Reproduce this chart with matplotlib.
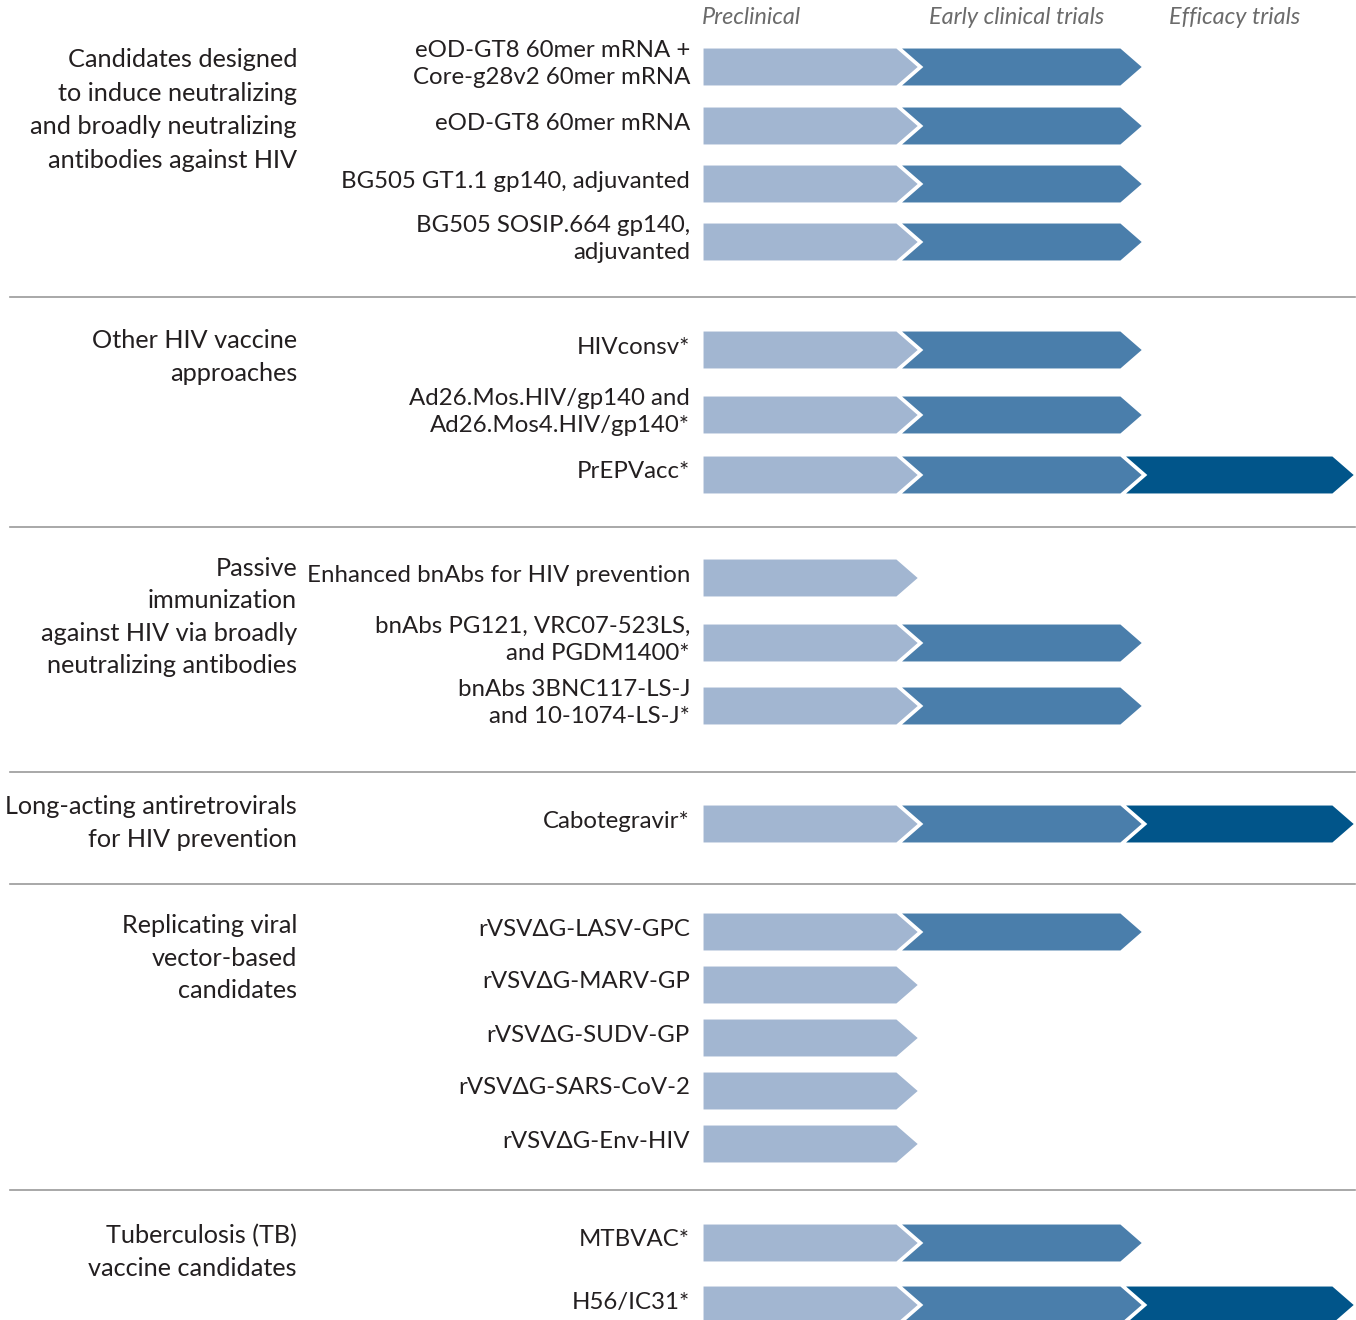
import matplotlib
matplotlib.use("Agg")
import matplotlib.pyplot as plt
from matplotlib.patches import Polygon

plt.rcParams['font.family'] = ['Lato', 'DejaVu Sans']

# data
stages = ['Preclinical', 'Early clinical trials', 'Efficacy trials']
groups = [
    'Candidates designed\nto induce neutralizing\nand broadly neutralizing\nantibodies against HIV',
    'Other HIV vaccine\napproaches',
    'Passive\nimmunization\nagainst HIV via broadly\nneutralizing antibodies',
    'Long-acting antiretrovirals\nfor HIV prevention',
    'Replicating viral\nvector-based\ncandidates',
    'Tuberculosis (TB)\nvaccine candidates',
]
candidates = [
    ['eOD-GT8 60mer mRNA +\nCore-g28v2 60mer mRNA', 'eOD-GT8 60mer mRNA',
     'BG505 GT1.1 gp140, adjuvanted', 'BG505 SOSIP.664 gp140,\nadjuvanted'],
    ['HIVconsv*', 'Ad26.Mos.HIV/gp140 and\nAd26.Mos4.HIV/gp140*', 'PrEPVacc*'],
    ['Enhanced bnAbs for HIV prevention', 'bnAbs PG121, VRC07-523LS,\nand PGDM1400*',
     'bnAbs 3BNC117-LS-J\nand 10-1074-LS-J*'],
    ['Cabotegravir*'],
    ['rVSV\u0394G-LASV-GPC', 'rVSV\u0394G-MARV-GP', 'rVSV\u0394G-SUDV-GP',
     'rVSV\u0394G-SARS-CoV-2', 'rVSV\u0394G-Env-HIV'],
    ['MTBVAC*', 'H56/IC31*'],
]
stage_reached = [
    [2, 2, 2, 2],
    [2, 2, 3],
    [1, 2, 2],
    [3],
    [2, 1, 1, 1, 1],
    [2, 3],
]

# layout (pixels)
row_y = [
    [67, 126, 184, 242],
    [350, 415, 475],
    [578, 643, 706],
    [824],
    [932, 985, 1038, 1091, 1144],
    [1243, 1305],
]
group_y = [110, 357, 617, 823, 958, 1252]
group_ls = [1.57, 1.48, 1.48, 1.48, 1.48, 1.48]
sep_y = [297, 527, 772, 884, 1190]
seg_left = [702, 898, 1122]
seg_right = [897, 1121, 1333]
tip = 23
half_h = 20
colors = ['#A2B6D1', '#4A7EAB', '#01558A']

fig = plt.figure(figsize=(13.56, 13.20), dpi=100)
ax = fig.add_axes([0, 0, 1, 1])
ax.set_xlim(0, 1356)
ax.set_ylim(1320, 0)
ax.axis('off')

for s, x in zip(stages, [702, 929, 1169]):
    ax.text(x, 18, s, fontsize=16.8, style='italic', color='#6b6b6b', ha='left', va='center')

for gi, g in enumerate(groups):
    ax.text(297, group_y[gi], g, fontsize=18.2, color='#231f20', ha='right', va='center',
            linespacing=group_ls[gi])
    for ci, c in enumerate(candidates[gi]):
        y = row_y[gi][ci]
        ax.text(690, y - 3, c, fontsize=17.3, color='#231f20', ha='right', va='center',
                linespacing=1.32)
        for k in range(stage_reached[gi][ci]):
            L, R = seg_left[k], seg_right[k]
            pts = [(L, y - half_h), (R, y - half_h), (R + tip, y), (R, y + half_h), (L, y + half_h)]
            if k > 0:
                pts.append((L + tip, y))
            ax.add_patch(Polygon(pts, closed=True, facecolor=colors[k], edgecolor='white',
                                 linewidth=2.2, joinstyle='miter'))

for y in sep_y:
    ax.plot([10, 1355], [y, y], color='#9a9a9a', lw=1.2)

fig.savefig('out.png', dpi=100)
